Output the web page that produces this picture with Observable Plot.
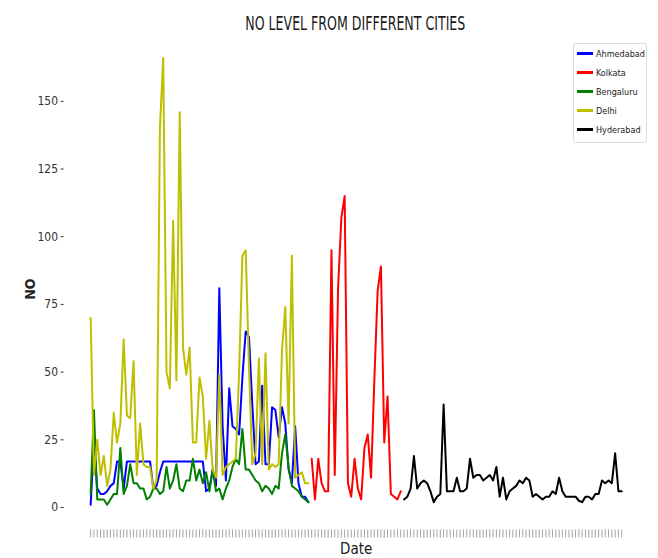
<!DOCTYPE html>
<html>
<head>
<meta charset="utf-8">
<script src="https://cdn.jsdelivr.net/npm/d3@7"></script>
<script src="https://cdn.jsdelivr.net/npm/@observablehq/plot@0.6"></script>
<style>
  body { margin: 0; background: #fff; }
  #wrap { position: relative; width: 658px; height: 558px; overflow: hidden;
          font-family: "DejaVu Sans Condensed", "Liberation Sans Narrow", "DejaVu Sans", sans-serif; }
  #title { position: absolute; left: 0; top: 13px; width: 710px; text-align: center;
           font-size: 20px; line-height: 20px; color: #1a1a1a; white-space: nowrap; }
  #title span { display: inline-block; transform-origin: center; }
  #chart { position: absolute; left: 0; top: 30px; }
  #legend { position: absolute; left: 573px; top: 43px; width: 72px; padding-bottom: 3px;
            border: 1px solid #dcdcdc; border-radius: 3px; background: #fff; }
  .item { height: 19px; display: flex; align-items: center; font-size: 9px; color: #222; }
  .swatch { width: 16px; height: 3px; margin: 0 3px 0 3px; }
</style>
</head>
<body>
<div id="wrap">
  <div id="title"><span>NO LEVEL FROM DIFFERENT CITIES</span></div>
  <div id="chart"></div>
  <div id="legend"></div>
</div>
<script>
// Daily NO readings per city, one value per consecutive date on the shared date axis.
const ahmedabad = [1, 24, 7, 5, 5, 6, 8, 9, 17, 17, 7, 17, 17, 17, 17, 17, 17, 17, 17, 7,
  8, 13, 17, 17, 17, 17, 17, 17, 17, 17, 17, 17, 17, 17, 17, 6, 7, 14, 8, 81,
  30, 10, 44, 30, 29, 27, 48, 65, 63, 38, 16, 17, 45, 16, 16, 37, 36, 26, 37, 31,
  14, 9, 30, 9, 4, 4, 2];
const bengaluru = [5, 36, 3, 3, 3, 1, 3, 5, 5, 22, 5, 8, 16, 9, 9, 7, 7, 3, 4, 7,
  7, 5, 6, 15, 7, 10, 16, 7, 6, 10, 10, 18, 10, 14, 9, 13, 6, 14, 6, 7,
  3, 7, 10, 15, 18, 16, 29, 14, 14, 12, 10, 9, 6, 8, 7, 5, 8, 7, 20, 27,
  15, 8, 7, 6, 4, 3, 2];
const delhi = [70, 12, 25, 12, 19, 8, 14, 35, 24, 31, 62, 34, 33, 54, 12, 31, 16, 15, 15, 7,
  10, 140, 166, 50, 44, 106, 47, 146, 59, 49, 59, 24, 24, 48, 41, 18, 32, 14, 11, 49,
  12, 15, 16, 17, 18, 50, 93, 95, 52, 16, 20, 55, 16, 57, 14, 16, 15, 16, 58, 74,
  31, 93, 11, 12, 13, 9, 9];
const kolkata = [18, 3, 18, 9, 6, 6, 95, 12, 81, 107, 115, 9, 4, 18, 7, 3, 22, 27, 11, 47,
  80, 89, 24, 41, 5, 4, 3, 6];
const hyderabad = [3, 4, 7, 19, 7, 9, 10, 9, 6, 2, 4, 5, 38, 6, 6, 6, 11, 6, 6, 7,
  18, 11, 12, 12, 10, 11, 12, 10, 15, 4, 11, 3, 6, 7, 8, 10, 9, 11, 10, 4,
  5, 4, 3, 4, 4, 6, 5, 11, 6, 4, 4, 4, 4, 2.5, 2, 4, 4, 3, 5, 5,
  10, 9, 10, 9, 20, 6, 6];

const yTicks = [0, 25, 50, 75, 100, 125, 150];
const cities = ["Ahmedabad", "Kolkata", "Bengaluru", "Delhi", "Hyderabad"];
const colors = ["#0000ff", "#ff0000", "#008000", "#bfbf00", "#000000"];

// Each city's readings sit on its own run of dates along the shared axis.
const series = [
  {city: "Ahmedabad", start: 0, values: ahmedabad},
  {city: "Kolkata", start: delhi.length, values: kolkata},
  {city: "Bengaluru", start: 0, values: bengaluru},
  {city: "Delhi", start: 0, values: delhi},
  {city: "Hyderabad", start: delhi.length + kolkata.length, values: hyderabad}
];
const rows = series.flatMap(s => s.values.map((v, i) => ({city: s.city, date: s.start + i, no: v})));
const nDates = delhi.length + kolkata.length + hyderabad.length;
const dateTicks = d3.range(nDates);
const pad = (nDates - 1) * 0.05;

const chart = Plot.plot({
  width: 658,
  height: 528,
  marginLeft: 63.6,
  marginRight: 10.2,
  marginTop: 5,
  marginBottom: 28.5,
  style: {fontFamily: "'DejaVu Sans Condensed', 'Liberation Sans Narrow', 'DejaVu Sans', sans-serif", background: "transparent"},
  x: {type: "linear", domain: [-pad, nDates - 1 + pad]},
  y: {domain: [-8.3, 174.3]},
  color: {domain: cities, range: colors},
  marks: [
    Plot.axisX({ticks: dateTicks, tickSize: 8, fill: "none", stroke: "#8a8a8a", strokeWidth: 0.8, label: null}),
    Plot.axisY({ticks: yTicks, tickSize: 3, tickPadding: 3, fontSize: 12, color: "#333", label: null}),
    ...series.map(s => Plot.lineY(rows.filter(r => r.city === s.city), {
      x: "date", y: "no", stroke: "city", strokeWidth: 2, curve: "linear"
    })),
    Plot.text(["NO"], {frameAnchor: "left", dx: -33.6, dy: 17, rotate: -90, fontSize: 14, fontWeight: "bold", fill: "#222"}),
    Plot.text(["Date"], {frameAnchor: "bottom", dy: 19.5, lineAnchor: "middle", fontSize: 15, fill: "#222"})
  ]
});
document.getElementById("chart").appendChild(chart);

// Legend entries
const legend = d3.select("#legend");
cities.forEach((c, i) => {
  const item = legend.append("div").attr("class", "item");
  item.append("div").attr("class", "swatch").style("background", colors[i]);
  item.append("span").text(c);
});

// Squeeze the title to its narrow width
const t = document.querySelector("#title span");
const w = t.getBoundingClientRect().width;
t.style.transform = `scaleX(${220 / w})`;
</script>
</body>
</html>
